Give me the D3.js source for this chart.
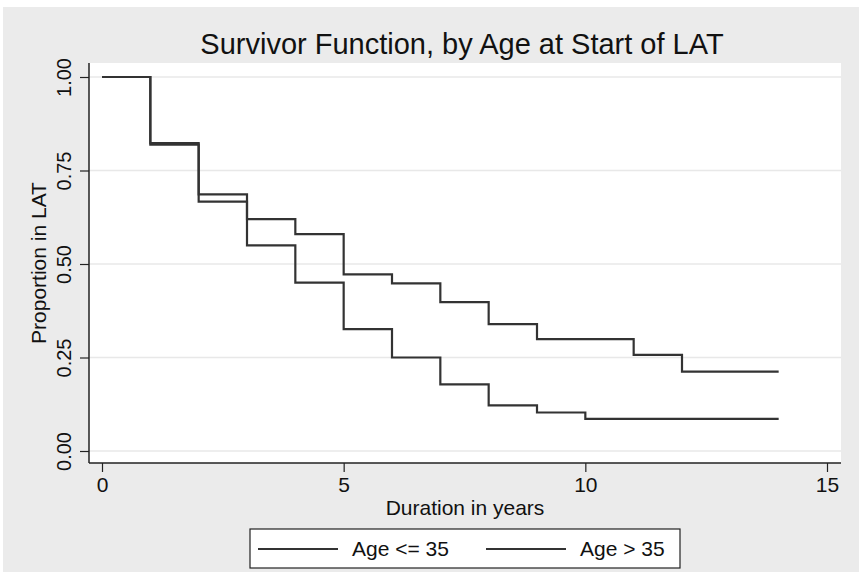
<!doctype html>
<html lang="en">

<head>
    <meta charset="UTF-8" />
    <script src="https://d3js.org/d3.v7.min.js"></script>
    <title>Survivor Function</title>
    <style>
        body { margin: 0; background: #fff; }
        text { font-family: "Liberation Sans", Arial, sans-serif; fill: #111; }
    </style>
</head>

<body>
    <div id="chart"></div>
    <script type="module">
        // Kaplan-Meier estimates
        const youngTimes = [0, 1, 2, 3, 4, 5, 6, 7, 8, 9, 10, 14]
        const youngSurv = [1, 0.819, 0.667, 0.550, 0.450, 0.326, 0.250, 0.178, 0.122, 0.103, 0.086, 0.086]
        const oldTimes = [0, 1, 2, 3, 4, 5, 6, 7, 8, 9, 11, 12, 14]
        const oldSurv = [1, 0.823, 0.686, 0.620, 0.580, 0.472, 0.448, 0.398, 0.339, 0.299, 0.257, 0.212, 0.212]
        const xTicks = [0, 5, 10, 15]
        const yTicks = [0, 0.25, 0.5, 0.75, 1]
        const seriesNames = ["Age <= 35", "Age > 35"]

        const W = 859, H = 572
        const plot = { left: 89, right: 841, top: 63, bottom: 463 }

        const x = d3.scaleLinear().domain([0, 15]).range([102, 827])
        const y = d3.scaleLinear().domain([0, 1]).range([451, 77])

        const svg = d3.select("#chart").append("svg")
            .attr("width", W)
            .attr("height", H)

        // grey background and white plot region
        svg.append("rect").attr("x", 3).attr("y", 7).attr("width", W - 3).attr("height", H - 7).attr("fill", "#ebebeb")
        svg.append("rect").attr("x", plot.left).attr("y", plot.top)
            .attr("width", plot.right - plot.left).attr("height", plot.bottom - plot.top).attr("fill", "#fff")

        // gridlines
        svg.append("g").selectAll("line").data(yTicks).enter().append("line")
            .attr("x1", plot.left).attr("x2", plot.right)
            .attr("y1", d => y(d)).attr("y2", d => y(d))
            .attr("stroke", "#e8e8e8").attr("stroke-width", 1.5)

        // axes
        const xAxis = svg.append("g")
            .attr("transform", `translate(0, ${plot.bottom})`)
            .call(d3.axisBottom(x).tickValues(xTicks).tickSize(9).tickPadding(5).tickSizeOuter(0))
        xAxis.select(".domain").attr("d", `M${plot.left},0H${plot.right}`).attr("stroke", "#222").attr("stroke-width", 1.5)
        xAxis.selectAll(".tick line").attr("stroke", "#222").attr("stroke-width", 1.2)
        xAxis.selectAll(".tick text").attr("font-size", "21px").attr("font-family", null).attr("fill", "#111")

        const yAxis = svg.append("g")
            .attr("transform", `translate(${plot.left}, 0)`)
            .call(d3.axisLeft(y).tickValues(yTicks).tickFormat(d3.format(".2f")).tickSize(9).tickSizeOuter(0))
        yAxis.select(".domain").attr("d", `M0,${plot.top}V${plot.bottom}`).attr("stroke", "#222").attr("stroke-width", 1.5)
        yAxis.selectAll(".tick line").attr("stroke", "#222").attr("stroke-width", 1.2)
        yAxis.selectAll(".tick text")
            .attr("font-size", "20px").attr("font-family", null).attr("fill", "#111")
            .attr("x", null).attr("dy", null)
            .attr("text-anchor", "middle")
            .attr("transform", "translate(-18, 0) rotate(-90)")

        // survival curves
        const line = d3.line()
            .x(d => x(d[0]))
            .y(d => y(d[1]))
            .curve(d3.curveStepAfter)

        const series = [
            d3.zip(youngTimes, youngSurv),
            d3.zip(oldTimes, oldSurv)
        ]

        svg.append("g").selectAll("path").data(series).enter().append("path")
            .attr("d", line)
            .attr("fill", "none")
            .attr("stroke", "#333")
            .attr("stroke-width", 2.2)

        // titles
        svg.append("text")
            .attr("x", 462).attr("y", 54)
            .attr("text-anchor", "middle")
            .attr("font-size", "29px")
            .text("Survivor Function, by Age at Start of LAT")

        svg.append("text")
            .attr("x", 465).attr("y", 515)
            .attr("text-anchor", "middle")
            .attr("font-size", "21px")
            .text("Duration in years")

        svg.append("text")
            .attr("transform", `translate(46, ${(plot.top + plot.bottom) / 2}) rotate(-90)`)
            .attr("text-anchor", "middle")
            .attr("font-size", "21px")
            .text("Proportion in LAT")

        // legend
        const legend = svg.append("g")
        legend.append("rect")
            .attr("x", 250).attr("y", 529).attr("width", 430).attr("height", 39)
            .attr("fill", "#fff").attr("stroke", "#222").attr("stroke-width", 1.2)

        const legendX = [258, 486]
        seriesNames.forEach((name, i) => {
            legend.append("line")
                .attr("x1", legendX[i]).attr("x2", legendX[i] + 80)
                .attr("y1", 549).attr("y2", 549)
                .attr("stroke", "#333").attr("stroke-width", 2.2)
            legend.append("text")
                .attr("x", legendX[i] + 94).attr("y", 556)
                .attr("font-size", "21px")
                .text(name)
        })
    </script>
</body>

</html>
